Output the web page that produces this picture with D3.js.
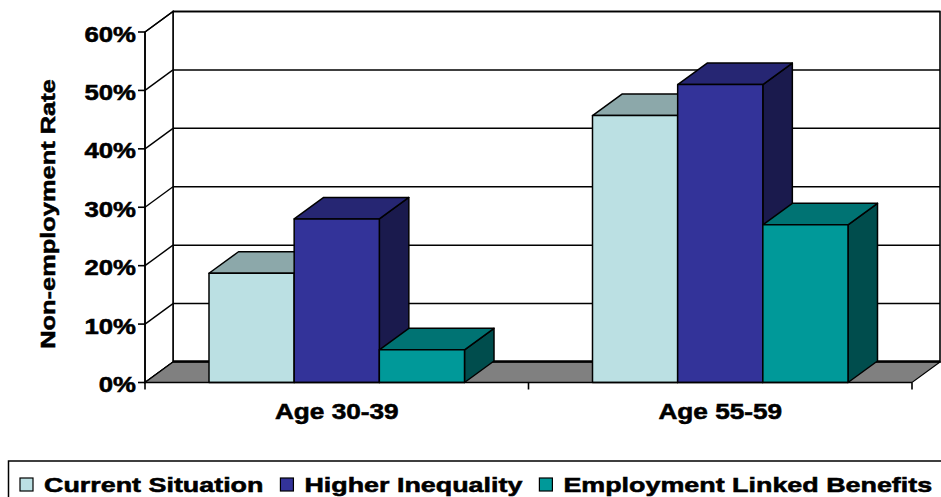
<!DOCTYPE html>
<html>
<head>
<meta charset="utf-8">
<script src="https://cdn.jsdelivr.net/npm/d3@7"></script>
<style>
  html, body { margin: 0; padding: 0; background: #fff; }
  svg { display: block; font-family: "Liberation Sans", Arial, sans-serif; font-weight: bold; }
  text { fill: #000; stroke: #000; stroke-width: 0.55px; }
</style>
</head>
<body>
<svg id="chart" width="941" height="497"></svg>
<script>
const categories = ["Age 30-39", "Age 55-59"];
const seriesNames = ["Current Situation", "Higher Inequality", "Employment Linked Benefits"];
const seriesColors = ["#BBE0E3", "#333399", "#009999"];
const currentSituation = [0.187, 0.457];
const higherInequality = [0.28, 0.51];
const employmentLinked = [0.056, 0.27];
const yTicks = [0, 0.1, 0.2, 0.3, 0.4, 0.5, 0.6];

const seriesValues = [currentSituation, higherInequality, employmentLinked];

const WIDTH = 941, HEIGHT = 497;
const WALL_DX = 28, WALL_DY = -20.5;   // depth of walls/floor
const BAR_DX = 29.5, BAR_DY = -21.5;   // depth of the columns
const BACK_RIGHT = 940;

const svg = d3.select("#chart");

const x0 = d3.scaleBand().domain(categories).range([145, 912]).padding(0);
const x1 = d3.scaleBand().domain(seriesNames).range([64, x0.bandwidth() - 64]).padding(0);
const y = d3.scaleLinear().domain([0, 0.6]).range([382.5, 32]);

// shade helper for top / side faces
function shade(c, k) {
  const r = d3.rgb(c);
  return d3.rgb(r.r * k, r.g * k, r.b * k).formatHex();
}

const walls = svg.append("g");
const y0 = y(0), yTop = y(0.6);

// back wall
walls.append("rect")
  .attr("x", 145 + WALL_DX).attr("y", yTop + WALL_DY)
  .attr("width", BACK_RIGHT - 145 - WALL_DX).attr("height", y0 - yTop)
  .attr("fill", "#fff").attr("stroke", "#000").attr("stroke-width", 1.6);

// side wall
walls.append("path")
  .attr("d", `M145,${yTop}L${145 + WALL_DX},${yTop + WALL_DY}L${145 + WALL_DX},${y0 + WALL_DY}L145,${y0}Z`)
  .attr("fill", "#fff").attr("stroke", "#000").attr("stroke-width", 1.5);

// gridlines on back wall and diagonals on side wall
walls.selectAll("line.grid").data(yTicks.filter(t => t > 0)).join("line")
  .attr("class", "grid")
  .attr("x1", 145 + WALL_DX).attr("x2", BACK_RIGHT)
  .attr("y1", d => y(d) + WALL_DY).attr("y2", d => y(d) + WALL_DY)
  .attr("stroke", "#000").attr("stroke-width", 1.5);
walls.selectAll("line.diag").data(yTicks).join("line")
  .attr("class", "diag")
  .attr("x1", 145).attr("x2", 145 + WALL_DX)
  .attr("y1", d => y(d)).attr("y2", d => y(d) + WALL_DY)
  .attr("stroke", "#000").attr("stroke-width", 1.4);

// floor
walls.append("path")
  .attr("d", `M145,${y0}L912,${y0}L${912 + WALL_DX},${y0 + WALL_DY}L${145 + WALL_DX},${y0 + WALL_DY}Z`)
  .attr("fill", "#808080").attr("stroke", "#000").attr("stroke-width", 1.2);
walls.append("line")
  .attr("x1", 145 + WALL_DX).attr("x2", BACK_RIGHT)
  .attr("y1", y0 + WALL_DY - 0.5).attr("y2", y0 + WALL_DY - 0.5)
  .attr("stroke", "#000").attr("stroke-width", 2.6);

// bars
const bars = [];
categories.forEach((c, ci) => {
  seriesNames.forEach((s, si) => {
    bars.push({ cat: c, series: s, color: seriesColors[si], value: seriesValues[si][ci] });
  });
});

const barG = svg.append("g")
  .selectAll("g").data(bars).join("g")
  .attr("stroke", "#000").attr("stroke-width", 1.5).attr("stroke-linejoin", "round");

barG.each(function (d) {
  const g = d3.select(this);
  const xl = x0(d.cat) + x1(d.series);
  const xr = xl + x1.bandwidth();
  const yt = y(d.value);
  // right side
  g.append("path")
    .attr("d", `M${xr},${yt}L${xr + BAR_DX},${yt + BAR_DY}L${xr + BAR_DX},${y0 + BAR_DY}L${xr},${y0}Z`)
    .attr("fill", shade(d.color, 0.5));
  // top
  g.append("path")
    .attr("d", `M${xl},${yt}L${xl + BAR_DX},${yt + BAR_DY}L${xr + BAR_DX},${yt + BAR_DY}L${xr},${yt}Z`)
    .attr("fill", shade(d.color, 0.75));
  // front
  g.append("rect")
    .attr("x", xl).attr("y", yt).attr("width", xr - xl).attr("height", y0 - yt)
    .attr("fill", d.color);
});

// front axes
const axisG = svg.append("g").attr("stroke", "#000").attr("stroke-width", 1.6);
axisG.append("line").attr("x1", 145).attr("x2", 145).attr("y1", yTop).attr("y2", y0);
axisG.append("line").attr("x1", 145).attr("x2", 912).attr("y1", y0).attr("y2", y0);
axisG.selectAll("line.ytick").data(yTicks).join("line")
  .attr("class", "ytick")
  .attr("x1", 138).attr("x2", 145)
  .attr("y1", d => y(d)).attr("y2", d => y(d));
const xTickPos = [x0.range()[0], ...categories.slice(1).map(c => x0(c)), x0.range()[1]];
axisG.selectAll("line.xtick").data(xTickPos).join("line")
  .attr("class", "xtick")
  .attr("x1", d => d).attr("x2", d => d)
  .attr("y1", y0).attr("y2", y0 + 7);

const fmt = d3.format(".0%");
svg.append("g").selectAll("text").data(yTicks).join("text")
  .attr("transform", d => `translate(136,${y(d) + 9.6}) scale(1.17,1)`)
  .attr("text-anchor", "end")
  .attr("font-size", 22)
  .text(d => fmt(d));

svg.append("g").selectAll("text").data(categories).join("text")
  .attr("transform", d => `translate(${x0(d) + x0.bandwidth() / 2},418.5) scale(1.19,1)`)
  .attr("text-anchor", "middle")
  .attr("font-size", 22)
  .text(d => d);

svg.append("text")
  .attr("transform", "translate(55,214) rotate(-90) scale(1.21,1)")
  .attr("text-anchor", "middle")
  .attr("font-size", 21)
  .text("Non-employment Rate");

// legend (runs past the right edge, as in the original)
const legend = svg.append("g");
legend.append("rect")
  .attr("x", 8.5).attr("y", 461).attr("width", 1000).attr("height", 60)
  .attr("fill", "#fff").attr("stroke", "#000").attr("stroke-width", 1.5);

const LEG_SCALE = 1.28;
let lx = 20;
seriesNames.forEach((s, i) => {
  legend.append("rect")
    .attr("x", lx).attr("y", 478).attr("width", 13).attr("height", 13)
    .attr("fill", seriesColors[i]).attr("stroke", "#000").attr("stroke-width", 1.2);
  const t = legend.append("text")
    .attr("transform", `translate(${lx + 24},491.5) scale(${LEG_SCALE},1)`)
    .attr("font-size", 21)
    .text(s);
  lx += 24 + t.node().getComputedTextLength() * LEG_SCALE + 17;
});
</script>
</body>
</html>
